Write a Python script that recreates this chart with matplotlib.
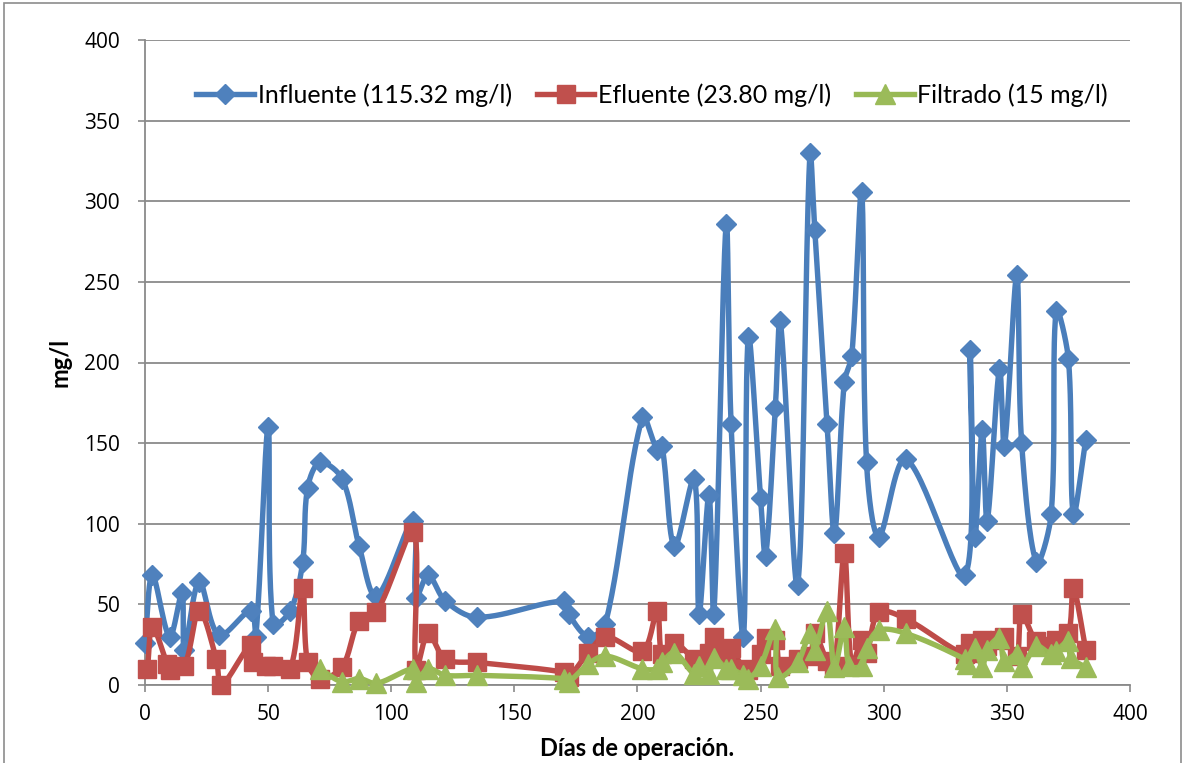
import numpy as np
import matplotlib
matplotlib.use("Agg")
import matplotlib.pyplot as plt
from matplotlib.lines import Line2D
from matplotlib.patches import Rectangle

# Sampling days and concentrations (mg/l)
dias_inf = [0, 3, 10, 15, 16, 22, 30, 43, 45, 50, 52, 59, 64, 66, 71, 80, 87, 94,
            109, 110, 115, 122, 135, 170, 172, 180, 187, 202, 208, 210, 215, 223,
            225, 229, 231, 236, 238, 243, 245, 250, 252, 256, 258, 265, 270, 272,
            277, 280, 284, 287, 291, 293, 298, 309, 333, 335, 337, 340, 342, 347,
            349, 354, 356, 362, 368, 370, 375, 377, 382]
influente = [26, 68, 30, 57, 22, 64, 31, 46, 30, 160, 38, 46, 76, 122, 138, 128, 86, 55,
             102, 54, 68, 52, 42, 52, 44, 30, 38, 166, 146, 148, 86, 128,
             44, 118, 44, 286, 162, 30, 216, 116, 80, 172, 226, 62, 330, 282,
             162, 94, 188, 204, 306, 138, 92, 140, 68, 208, 92, 158, 102, 196,
             148, 254, 150, 76, 106, 232, 202, 106, 152]

dias_efl = [1, 3, 9, 10, 16, 22, 29, 31, 43, 44, 49, 52, 59, 64, 66, 71, 80, 87, 94,
            109, 110, 115, 122, 135, 170, 172, 180, 187, 202, 208, 210, 215, 223,
            225, 229, 231, 236, 238, 243, 245, 250, 252, 256, 258, 265, 270, 272,
            277, 280, 284, 287, 291, 293, 298, 309, 333, 335, 337, 340, 342, 347,
            349, 354, 356, 362, 368, 370, 375, 377, 382]
efluente = [10, 36, 13, 9, 12, 46, 16, 0, 25, 14, 12, 12, 10, 60, 14, 4, 11, 40, 45,
            95, 9, 32, 16, 14, 8, 5, 20, 30, 21, 46, 19, 26, 16,
            15, 20, 30, 20, 23, 10, 9, 19, 29, 28, 12, 16, 18, 32,
            15, 12, 82, 12, 28, 20, 45, 41, 19, 26, 20, 28, 24, 28,
            30, 18, 44, 27, 24, 28, 32, 60, 22]

dias_fil = [71, 80, 87, 94, 109, 110, 115, 122, 135, 170, 172, 180, 187, 202, 208,
            210, 215, 223, 225, 229, 231, 236, 238, 243, 245, 250, 256, 257, 265,
            270, 272, 277, 280, 284, 286, 291, 293, 298, 309, 333, 334, 337, 340,
            342, 347, 349, 354, 356, 362, 368, 370, 375, 376, 382]
filtrado = [10, 2, 4, 1, 10, 2, 10, 6, 6, 4, 2, 13, 18, 10, 10,
            14, 20, 7, 12, 7, 17, 10, 10, 6, 4, 12, 35, 5, 14,
            32, 22, 46, 11, 36, 12, 12, 23, 34, 32, 16, 13, 23, 11,
            22, 29, 15, 19, 11, 24, 19, 21, 27, 17, 11]

labels = ["Influente (115.32 mg/l)", "Efluente (23.80 mg/l)", "Filtrado (15 mg/l)"]
x_ticks = list(range(0, 401, 50))
y_ticks = list(range(0, 401, 50))

W, H = 1185, 763
AX_L, AX_R, AX_T, AX_B = 145, 1130, 40, 685
SX = (AX_R - AX_L) / 400.0   # pixels per day
SY = (AX_B - AX_T) / 400.0   # pixels per mg/l


def smooth_curve(x, y, n=30):
    """Smoothed line through every point: cubic Bezier segments whose
    tangents are weighted by the neighbouring chord lengths (on screen)."""
    p = np.column_stack([x, y]).astype(float)
    scale = np.array([SX, SY])
    pe = np.vstack([p[0], p, p[-1]])
    t = np.linspace(0, 1, n)[:, None]
    parts = []
    for i in range(len(p) - 1):
        p0, p1, p2, p3 = pe[i], pe[i + 1], pe[i + 2], pe[i + 3]
        d01 = np.hypot(*((p1 - p0) * scale))
        d12 = np.hypot(*((p2 - p1) * scale))
        d23 = np.hypot(*((p3 - p2) * scale))
        w1 = d12 / (d01 + d12) if d01 + d12 > 0 else 0.0
        w2 = d12 / (d12 + d23) if d12 + d23 > 0 else 0.0
        c1 = p1 + (p2 - p0) * w1 / 3.0
        c2 = p2 - (p3 - p1) * w2 / 3.0
        seg = ((1 - t) ** 3) * p1 + 3 * ((1 - t) ** 2) * t * c1 \
            + 3 * (1 - t) * t ** 2 * c2 + t ** 3 * p2
        parts.append(seg if i == 0 else seg[1:])
    return np.vstack(parts)


fig = plt.figure(figsize=(W / 100, H / 100), dpi=100)
ax = fig.add_axes([AX_L / W, 1 - AX_B / H, (AX_R - AX_L) / W, (AX_B - AX_T) / H])

# Chart border
fig.patches.append(Rectangle((4 / W, -0.02), 1177 / W, 1.02 - 3 / H,
                             transform=fig.transFigure, fill=False,
                             edgecolor="#8c8c8c", linewidth=1.2))

series = [
    (dias_inf, influente, "#4a7ebb", "#4f81bd", "D", 10.5),
    (dias_efl, efluente, "#be4b48", "#c0504d", "s", 12.5),
    (dias_fil, filtrado, "#98b954", "#9bbb59", "^", 14),
]

handles = []
for k, (xs, ys, lc, mc, mk, ms) in enumerate(series):
    curve = smooth_curve(xs, ys)
    ax.plot(curve[:, 0], curve[:, 1], color=lc, linewidth=3.9,
            solid_capstyle="round", solid_joinstyle="round", zorder=3 + 2 * k)
    ax.plot(xs, ys, linestyle="none", marker=mk, markersize=ms,
            markerfacecolor=mc, markeredgecolor=mc, zorder=4 + 2 * k,
            clip_on=False)
    handles.append(Line2D([], [], color=lc, linewidth=3.9, marker=mk,
                          markersize=ms, markerfacecolor=mc, markeredgecolor=mc))

ax.set_xlim(0, 400)
ax.set_ylim(0, 400)
ax.set_xticks(x_ticks)
ax.set_yticks(y_ticks)

ax.grid(axis="y", color="#8a8a8a", linewidth=1.3)
ax.set_axisbelow(True)
for side in ("top", "right"):
    ax.spines[side].set_visible(False)
for side in ("left", "bottom"):
    ax.spines[side].set_color("#8a8a8a")
    ax.spines[side].set_linewidth(1.3)

ax.tick_params(axis="both", direction="out", length=5, width=1.2,
               color="#8a8a8a", labelcolor="black")
ax.tick_params(axis="y", pad=13)
ax.tick_params(axis="x", pad=9)
for lab in ax.get_xticklabels() + ax.get_yticklabels():
    lab.set_fontfamily(["Open Sans", "DejaVu Sans"])
    lab.set_fontsize(15)

label_font = ["Lato", "DejaVu Sans"]
fig.text(637 / W, 1 - 748 / H, "Días de operación.", ha="center", va="center",
         fontsize=17, fontweight="bold", family=label_font)
fig.text(60 / W, 1 - 362 / H, "mg/l", ha="center", va="center", rotation=90,
         fontsize=17, fontweight="bold", family=label_font)

ax.legend(handles, labels, loc="center", bbox_to_anchor=(0.515, 0.915), ncol=3,
          frameon=False, handlelength=2.3, handletextpad=0.15, columnspacing=1.0,
          prop={"family": label_font, "size": 18})

fig.savefig("out.png", dpi=100)
